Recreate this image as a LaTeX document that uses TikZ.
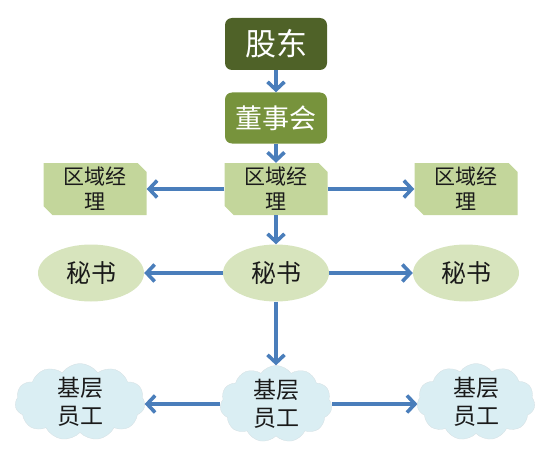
\documentclass[tikz,border=0pt]{standalone}
\usepackage{fontspec}
\newfontfamily\cjk{Noto Sans CJK SC}
\usetikzlibrary{shapes.geometric,shapes.symbols,arrows.meta}
\definecolor{dkgreen}{HTML}{4F6228}
\definecolor{mdgreen}{HTML}{77933C}
\definecolor{ltgreen}{HTML}{C3D69B}
\definecolor{elgreen}{HTML}{D7E4BD}
\definecolor{cloudblue}{HTML}{DAEEF3}
\definecolor{arrowblue}{HTML}{4A7EBB}
\definecolor{txt}{HTML}{1A1A1A}
\begin{document}
\begin{tikzpicture}[x=1pt,y=-1pt,font=\cjk,
  topbox/.style={rounded corners=7pt,minimum width=102pt,minimum height=52pt,inner sep=0pt,text=white},
  snipbox/.style={minimum width=103pt,minimum height=52pt,inner sep=0pt,align=center,text=txt,font=\cjk\fontsize{21pt}{25pt}\selectfont,
    path picture={\fill[ltgreen] (path picture bounding box.north west) -- ([xshift=-9pt]path picture bounding box.north east) -- ([yshift=-9pt]path picture bounding box.north east) -- (path picture bounding box.south east) -- ([xshift=9pt]path picture bounding box.south west) -- ([yshift=9pt]path picture bounding box.south west) -- cycle;}},
  oval/.style={ellipse,fill=elgreen,minimum width=106pt,minimum height=57pt,inner sep=0pt,text=txt,font=\cjk\fontsize{25pt}{28pt}\selectfont},
  cloudnode/.style={cloud,cloud puffs=11,cloud puff arc=110,fill=cloudblue,draw=cloudblue!85!black!60,line width=0.3pt,minimum width=#1,minimum height=72pt,inner sep=0pt,align=center,text=txt,font=\cjk\fontsize{23pt}{28pt}\selectfont},
  arr/.style={draw=arrowblue,line width=3.6pt,-{Straight Barb[length=8pt,width=17pt,line width=3.6pt]}}
]
\useasboundingbox (0,0) rectangle (552,460);
\node[topbox,fill=dkgreen,font=\cjk\fontsize{31pt}{33pt}\selectfont] (gd) at (276,44) {股东};
\node[topbox,fill=mdgreen,minimum height=51pt,font=\cjk\fontsize{27pt}{30pt}\selectfont] (dsh) at (276,118) {董事会};
\node[snipbox] (qc) at (276,189) {区域经\\理};
\node[snipbox] (ql) at (95,189) {区域经\\理};
\node[snipbox] (qr) at (466,189) {区域经\\理};
\node[oval] (mc) at (276,273) {秘书};
\node[oval] (ml) at (91,273) {秘书};
\node[oval] (mr) at (466,273) {秘书};
\node[cloudnode=112pt] (yc) at (276,404) {基层\\员工};
\node[cloudnode=130pt] (yl) at (80,402) {基层\\员工};
\node[cloudnode=118pt] (yr) at (476,402) {基层\\员工};
\draw[arr] (gd) -- (dsh);
\draw[arr] (dsh) -- (qc);
\draw[arr] (qc.west) -- (ql.east);
\draw[arr] (qc.east) -- (qr.west);
\draw[arr] (qc) -- (mc);
\draw[arr] (mc.west) -- (ml.east);
\draw[arr] (mc.east) -- (mr.west);
\draw[arr] (mc) -- (yc);
\draw[arr] (yc.west) -- (yl.east|-yc.west);
\draw[arr] (yc.east) -- (yr.west|-yc.east);
\end{tikzpicture}
\end{document}
